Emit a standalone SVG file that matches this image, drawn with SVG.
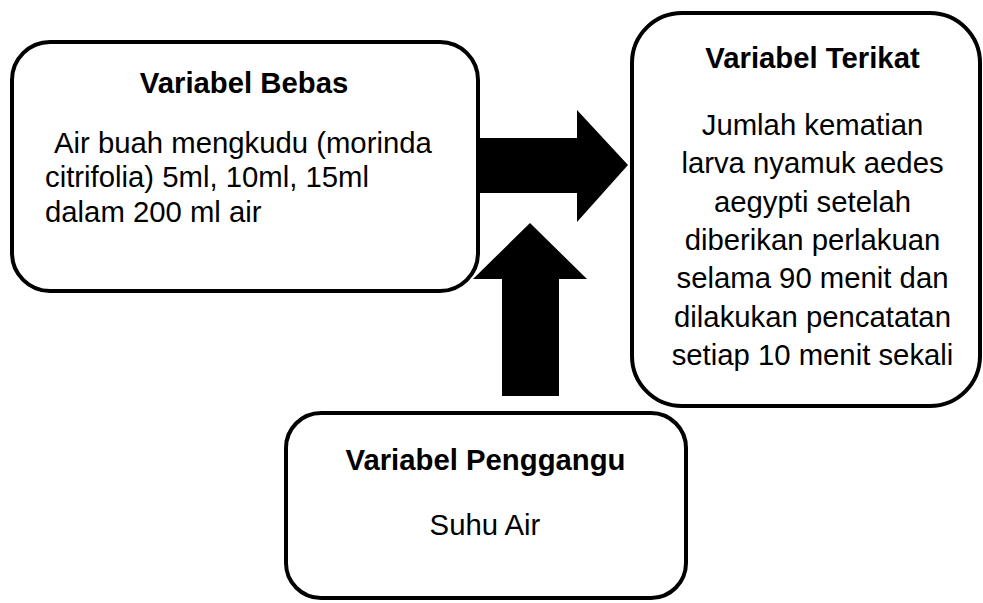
<svg xmlns="http://www.w3.org/2000/svg" width="983" height="603" viewBox="0 0 983 603">
<style>
.box{fill:#fff;stroke:#000;stroke-width:4}
.arrow{fill:#000;stroke:none}
text{font-family:"Liberation Sans",Arial,sans-serif;font-size:29.3px;fill:#000}
.t{font-weight:bold;text-anchor:middle}
.c{text-anchor:middle}
</style>
<rect width="983" height="603" fill="#fff"/>
<g id="connectors">
<polygon class="arrow" points="476,138 577,138 577,110 628,165 577,222 577,193 476,193"/>
<polygon class="arrow" points="502,396 502,279 473,279 530,223 587,279 559,279 559,396"/>
</g>
<g id="variabel-bebas">
<rect class="box" x="12" y="42" width="466" height="249" rx="38" ry="38"/>
<text class="t" x="244" y="93">Variabel Bebas</text>
<text x="54" y="153">Air buah mengkudu (morinda</text>
<text x="45" y="187">citrifolia) 5ml, 10ml, 15ml</text>
<text x="45" y="222">dalam 200 ml air</text>
</g>
<g id="variabel-terikat">
<rect class="box" x="632" y="13" width="348" height="393" rx="50" ry="50"/>
<text class="t" x="812.5" y="68">Variabel Terikat</text>
<text class="c" x="812.5" y="135">Jumlah kematian</text>
<text class="c" x="812.5" y="173">larva nyamuk aedes</text>
<text class="c" x="812.5" y="212">aegypti setelah</text>
<text class="c" x="812.5" y="250">diberikan perlakuan</text>
<text class="c" x="812.5" y="288">selama 90 menit dan</text>
<text class="c" x="812.5" y="327">dilakukan pencatatan</text>
<text class="c" x="812.5" y="365">setiap 10 menit sekali</text>
</g>
<g id="variabel-pengganggu">
<rect class="box" x="286" y="413" width="400" height="185" rx="35" ry="35"/>
<text class="t" x="485.5" y="470">Variabel Penggangu</text>
<text class="c" x="485" y="535">Suhu Air</text>
</g>
</svg>
